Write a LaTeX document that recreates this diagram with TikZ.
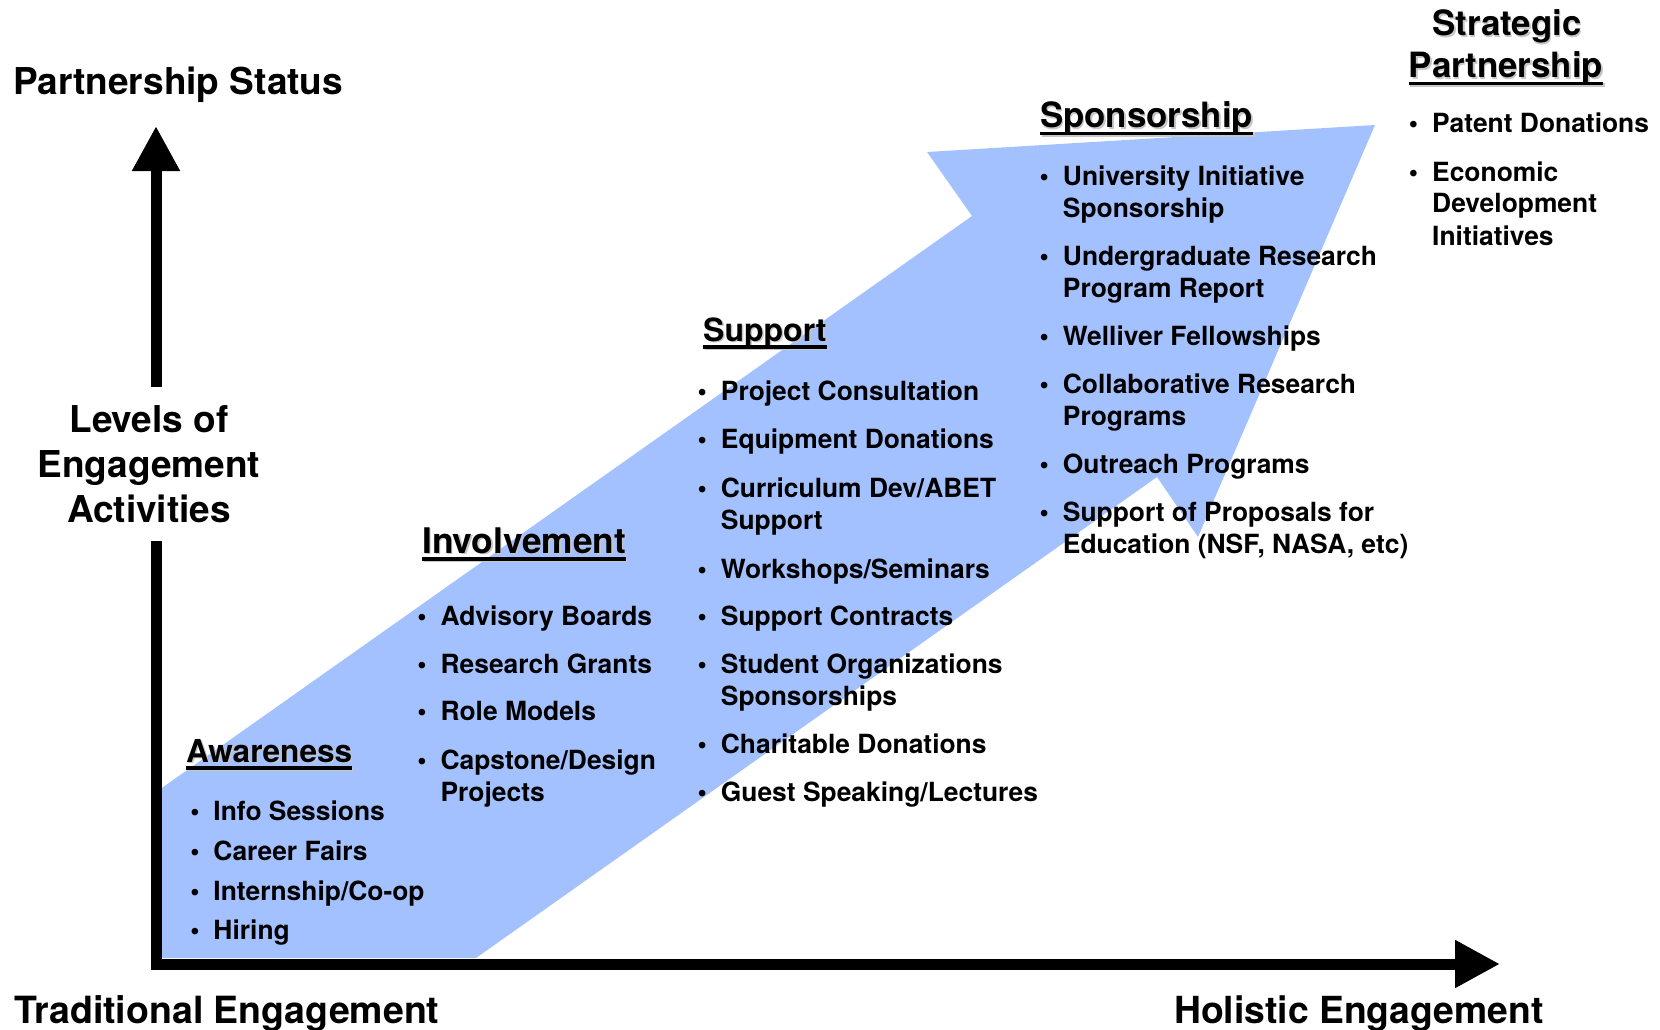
\documentclass[tikz,border=0pt]{standalone}
\usepackage{fontspec}
\setmainfont{TeX Gyre Heros}
\usetikzlibrary{arrows.meta}
\definecolor{arrowblue}{RGB}{163,193,255}
\newcommand\shadtext[1]{\setbox2=\hbox{#1}\rlap{\kern1.5pt\lower1.5pt\hbox{\color{black!22}\copy2}}\box2}
\newcommand\hdrul[1]{\setbox0=\hbox{#1}\shadtext{\rlap{\vrule width\wd0 height -4pt depth 7.5pt}\copy0}}
\newcommand\bul{\llap{\textbullet\hspace{14pt}}}
\newcommand\twol[2]{\vtop{\hbox{\bul #1}\hbox{#2}}}
\newcommand\threel[3]{\vtop{\hbox{\bul #1}\hbox{#2}\hbox{#3}}}
\tikzset{
  lbl/.style={inner sep=0pt, anchor=base west, font=\bfseries\fontsize{37}{45}\selectfont},
  lvl/.style={inner sep=0pt, anchor=base, font=\bfseries\fontsize{37}{45}\selectfont},
  hdr/.style={inner sep=0pt, anchor=base west, font=\bfseries\fontsize{#1}{40}\selectfont},
  hdr/.default=33,
  item/.style={inner sep=0pt, anchor=base west, font=\bfseries\fontsize{26.4}{32}\selectfont},
  sitem/.style={inner sep=0pt, anchor=base west, font=\bfseries\fontsize{26.4}{32}\selectfont},
  axisline/.style={line width=11pt, black},
  tipstyle/.style={-{Triangle[length=45pt,width=45pt]}},
}
\begin{document}
\begin{tikzpicture}[x=1pt,y=-1pt]
\useasboundingbox (0,0) rectangle (1660,1030);
% big blue arrow
\fill[arrowblue] (158,790.7) -- (972,216) -- (927,152) -- (1375,125) -- (1198,537)
  -- (1157,477) -- (476,958) -- (158,958) -- cycle;
% axes
\coordinate (ytop0) at (156,387);
\coordinate (ytip) at (156,126);
\coordinate (ymid) at (156,541);
\coordinate (corner) at (156,964);
\coordinate (xtip) at (1500,964);
\draw[axisline, line cap=butt, tipstyle] (ytop0) -- (ytip);
\draw[axisline, line join=miter, line cap=butt, tipstyle] (ymid) -- (corner) -- (xtip);
% axis labels
\node[lbl] (ps) at (13,95) {Partnership Status};
\node[lvl] (lev1) at (149,432) {Levels of};
\node[lvl] (lev2) at (149,477) {Engagement};
\node[lvl] (lev3) at (149,522) {Activities};
\node[lbl, font=\bfseries\fontsize{37.5}{45}\selectfont] (trad) at (14,1023) {Traditional Engagement};
\node[lbl, font=\bfseries\fontsize{37.3}{45}\selectfont] (hol) at (1174,1023) {Holistic Engagement};
% headers
\node[hdr=31.6] (haw) at (186,762) {\hdrul{Awareness}};
\node[hdr=35.3] (hin) at (422,553) {\hdrul{Involvement}};
\node[hdr=32] (hsu) at (703,341) {\hdrul{Support}};
\node[hdr=34.8] (hsp) at (1040,128) {\hdrul{Sponsorship}};
\node[hdr=34.8, anchor=base] (hst1) at (1507,36) {\shadtext{Strategic}};
\node[hdr=34.8, anchor=base] (hst2) at (1506,78) {\hdrul{Partnership}};
% Awareness
\node[item] (aw1) at (213.3,820) {\bul Info Sessions};
\node[item] (aw2) at (213.3,860) {\bul Career Fairs};
\node[item] (aw3) at (213.3,900) {\bul Internship/Co-op};
\node[item] (aw4) at (213.3,939.5) {\bul Hiring};
% Involvement
\node[item] (in1) at (440.4,625) {\bul Advisory Boards};
\node[item] (in2) at (440.4,673) {\bul Research Grants};
\node[item] (in3) at (440.4,720.5) {\bul Role Models};
\node[item] (in4) at (440.4,769) {\twol{Capstone/Design}{Projects}};
% Support
\node[item] (su1) at (720.7,400.5) {\bul Project Consultation};
\node[item] (su2) at (720.7,448.5) {\bul Equipment Donations};
\node[item] (su3) at (720.7,497) {\twol{Curriculum Dev/ABET}{Support}};
\node[item] (su4) at (720.7,578) {\bul Workshops/Seminars};
\node[item] (su5) at (720.7,625) {\bul Support Contracts};
\node[item] (su6) at (720.7,673) {\twol{Student Organizations}{Sponsorships}};
\node[item] (su7) at (720.7,753) {\bul Charitable Donations};
\node[item] (su8) at (720.7,801) {\bul Guest Speaking/Lectures};
% Sponsorship
\node[item] (sp1) at (1062.7,185.5) {\twol{University Initiative}{Sponsorship}};
\node[item] (sp2) at (1062.7,265) {\twol{Undergraduate Research}{Program Report}};
\node[item] (sp3) at (1062.7,345) {\bul Welliver Fellowships};
\node[item] (sp4) at (1062.7,393) {\twol{Collaborative Research}{Programs}};
\node[item] (sp5) at (1062.7,473) {\bul Outreach Programs};
\node[item] (sp6) at (1062.7,521) {\twol{Support of Proposals for}{Education (NSF, NASA, etc)}};
% Strategic Partnership
\node[sitem] (st1) at (1432,133) {\bul Patent Donations};
\node[sitem] (st2) at (1432,181) {\threel{Economic}{Development}{Initiatives}};
\end{tikzpicture}
\end{document}
